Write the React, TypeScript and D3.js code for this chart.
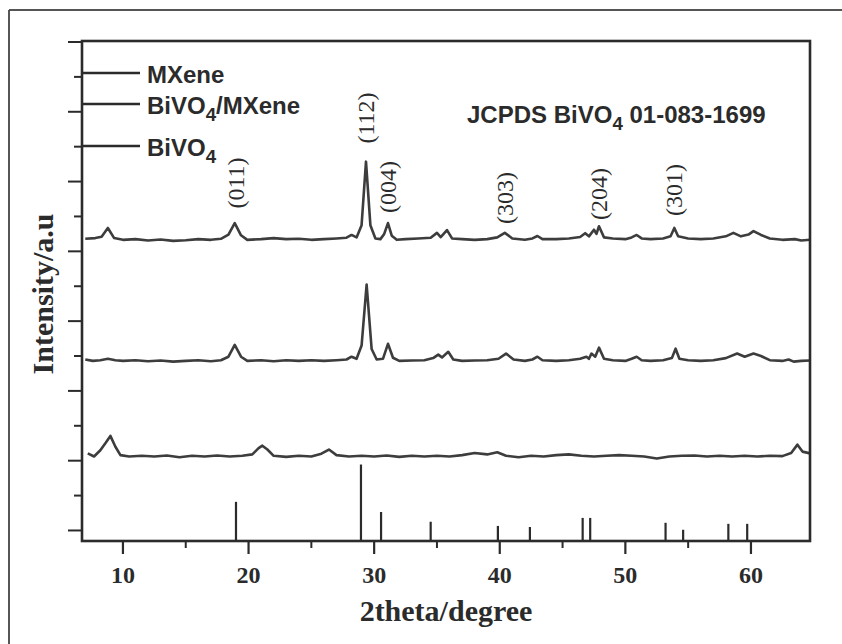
import React from "react";
import * as d3 from "d3";

// ---- data ----
const xTicksMajor = [10, 20, 30, 40, 50, 60];
const xTicksMinor = [15, 25, 35, 45, 55];
const yTickValues = [0, 1, 2, 3, 4, 5, 6, 7, 8, 9, 10, 11, 12, 13, 14];

const legendLabels = ["MXene", "BiVO4/MXene", "BiVO4"];

const bivo4Trace: [number, number][] = [
  [7.0, 8.36], [7.8, 8.38], [8.3, 8.42], [8.8, 8.67], [9.3, 8.38], [10.0, 8.33], [11, 8.35], [12, 8.31],
  [13, 8.34], [14, 8.30], [15, 8.32], [16, 8.35], [17, 8.33], [17.8, 8.36], [18.4, 8.48], [18.9, 8.81],
  [19.4, 8.46], [19.9, 8.33], [21, 8.35], [22, 8.38], [23, 8.35], [24, 8.36], [25, 8.33], [26, 8.35],
  [27, 8.37], [27.8, 8.39], [28.2, 8.47], [28.6, 8.40], [29.0, 8.75], [29.35, 10.57], [29.7, 8.75],
  [30.1, 8.37], [30.5, 8.35], [30.8, 8.50], [31.1, 8.81], [31.4, 8.45], [31.8, 8.33], [32.5, 8.35],
  [33.5, 8.37], [34.5, 8.39], [35.0, 8.53], [35.3, 8.41], [35.8, 8.61], [36.2, 8.37], [37, 8.35],
  [38, 8.33], [39, 8.35], [39.8, 8.40], [40.4, 8.53], [41.0, 8.37], [42, 8.33], [42.6, 8.37],
  [43.0, 8.44], [43.4, 8.35], [44.5, 8.35], [45.5, 8.37], [46.4, 8.41], [46.8, 8.52], [47.1, 8.43],
  [47.5, 8.62], [47.7, 8.50], [47.9, 8.72], [48.3, 8.40], [49, 8.37], [50, 8.35], [50.5, 8.40],
  [50.9, 8.47], [51.3, 8.37], [52, 8.35], [53, 8.37], [53.6, 8.43], [53.9, 8.67], [54.2, 8.43],
  [55, 8.37], [56, 8.35], [57, 8.37], [58, 8.43], [58.6, 8.53], [59.2, 8.43], [59.8, 8.48],
  [60.2, 8.58], [60.8, 8.47], [61.5, 8.37], [62.5, 8.33], [63.5, 8.35], [64, 8.31], [64.7, 8.33],
];

const compositeTrace: [number, number][] = [
  [7.0, 4.90], [7.6, 4.86], [8.2, 4.88], [8.8, 4.92], [9.4, 4.88], [10, 4.86], [11, 4.88], [12, 4.85],
  [13, 4.87], [14, 4.84], [15, 4.86], [16, 4.88], [17, 4.85], [17.8, 4.88], [18.4, 4.98], [18.9, 5.32],
  [19.4, 4.98], [19.9, 4.86], [21, 4.88], [22, 4.85], [23, 4.88], [24, 4.86], [25, 4.88], [26, 4.86],
  [27, 4.88], [27.8, 4.90], [28.2, 4.98], [28.6, 4.92], [29.0, 5.3], [29.4, 7.05], [29.8, 5.2],
  [30.2, 4.90], [30.7, 4.92], [31.1, 5.35], [31.5, 4.95], [32, 4.86], [33, 4.87], [34, 4.88],
  [34.7, 4.94], [35.1, 5.04], [35.4, 4.96], [35.9, 5.12], [36.3, 4.90], [37, 4.86], [38, 4.87],
  [39, 4.88], [39.9, 4.92], [40.5, 5.07], [41.1, 4.90], [42, 4.86], [42.6, 4.90], [43.0, 4.98],
  [43.4, 4.88], [44.5, 4.86], [45.5, 4.88], [46.4, 4.92], [46.9, 4.98], [47.1, 4.92], [47.3, 5.07],
  [47.6, 4.98], [47.9, 5.24], [48.3, 4.92], [49, 4.88], [50, 4.86], [50.5, 4.92], [50.9, 4.98],
  [51.3, 4.88], [52, 4.86], [53, 4.88], [53.7, 4.94], [54.0, 5.21], [54.3, 4.92], [55, 4.88],
  [56, 4.86], [57, 4.88], [58, 4.94], [58.9, 5.07], [59.5, 4.98], [60.2, 5.07], [60.8, 5.00],
  [61.5, 4.88], [62.5, 4.86], [63, 4.90], [63.4, 4.84], [64, 4.86], [64.7, 4.87],
];

const mxeneTrace: [number, number][] = [
  [7.2, 2.21], [7.7, 2.12], [8.2, 2.30], [8.6, 2.50], [9.0, 2.71], [9.4, 2.40], [9.8, 2.16], [10.5, 2.12],
  [11.5, 2.14], [12.5, 2.12], [13.5, 2.15], [14.5, 2.10], [15.5, 2.14], [16.5, 2.12], [17.5, 2.15],
  [18.5, 2.12], [19.5, 2.14], [20.3, 2.18], [20.8, 2.36], [21.1, 2.43], [21.5, 2.32], [22.0, 2.14],
  [23, 2.11], [24, 2.14], [25, 2.12], [25.8, 2.20], [26.4, 2.32], [27.0, 2.16], [28, 2.12], [29, 2.14],
  [30, 2.12], [31, 2.15], [32, 2.11], [33, 2.14], [34, 2.12], [35, 2.14], [36, 2.12], [37, 2.16],
  [38, 2.22], [39, 2.18], [39.8, 2.24], [40.5, 2.14], [41.5, 2.10], [42.5, 2.14], [43.5, 2.12],
  [44.5, 2.16], [45.5, 2.18], [46.5, 2.14], [47.5, 2.12], [48.5, 2.14], [49.5, 2.16], [50.5, 2.14],
  [51.5, 2.12], [52.5, 2.06], [53.5, 2.12], [54.5, 2.14], [55.5, 2.15], [56.5, 2.12], [57.5, 2.14],
  [58.5, 2.12], [59.5, 2.14], [60.5, 2.12], [61.5, 2.14], [62.5, 2.13], [63.2, 2.22], [63.7, 2.46],
  [64.1, 2.26], [64.7, 2.21],
];

const jcpdsPositions = [19.0, 28.95, 30.55, 34.5, 39.85, 42.4, 46.6, 47.2, 53.2, 54.6, 58.2, 59.7];
const jcpdsIntensities = [0.82, 1.89, 0.53, 0.25, 0.13, 0.10, 0.36, 0.36, 0.22, 0.02, 0.19, 0.19];

const peakLabels = ["(011)", "(112)", "(004)", "(303)", "(204)", "(301)"];
const peakLabelPositions = [19.0, 29.35, 31.1, 40.4, 47.9, 53.9];

// ---- layout ----
const W = 842;
const H = 644;
const left = 82;
const right = 810;
const top = 41;
const bottom = 541;

const ink = "#2b2b2b";
const traceColor = "#3d3d3d";
const serif = "'Liberation Serif', 'Times New Roman', serif";
const sans = "'Liberation Sans', Arial, sans-serif";

function withSubscript(s: string) {
  // "4" after "VO" is drawn as a subscript
  const parts = s.split("VO4");
  const out: React.ReactNode[] = [];
  parts.forEach((p, i) => {
    if (p.length > 0) out.push(<tspan key={"p" + i} dy={i > 0 ? -7 : 0}>{p}</tspan>);
    if (i < parts.length - 1) {
      out.push(<tspan key={"v" + i} dy={i > 0 && p.length === 0 ? -7 : 0}>VO</tspan>);
      out.push(
        <tspan key={"s" + i} fontSize="0.78em" dy={7}>
          4
        </tspan>
      );
    }
  });
  return out;
}

export default function App() {
  const x = d3.scaleLinear().domain([6.74, 64.7]).range([left, right]);
  const y = d3.scaleLinear().domain([-0.15, 14.0]).range([bottom - 5.3, top + 1]);
  const line = d3
    .line<[number, number]>()
    .x((d) => x(d[0]))
    .y((d) => y(d[1]))
    .curve(d3.curveLinear);

  const traces = [bivo4Trace, compositeTrace, mxeneTrace];
  const legendY = [73, 104, 146];
  const labelYCenter = [183, 118, 187, 198, 194, 190];

  return (
    <svg width={W} height={H} style={{ position: "absolute", left: 0, top: 0, background: "#fff" }}>
      <rect x={0} y={0} width={W} height={H} fill="#fff" />
      {/* outer frame (cropped) */}
      <line x1={9} y1={10} x2={W} y2={10} stroke="#555" strokeWidth={1.8} />
      <line x1={9} y1={10} x2={9} y2={H} stroke="#444" strokeWidth={1.8} />

      {/* traces */}
      {traces.map((t, i) => (
        <path key={i} d={line(t) || ""} fill="none" stroke={traceColor} strokeWidth={2.6} strokeLinejoin="round" />
      ))}

      {/* JCPDS sticks */}
      {jcpdsPositions.map((p, i) => (
        <line
          key={i}
          x1={x(p)}
          x2={x(p)}
          y1={bottom}
          y2={y(jcpdsIntensities[i])}
          stroke={ink}
          strokeWidth={2.2}
        />
      ))}

      {/* frame */}
      <rect x={left} y={top} width={right - left} height={bottom - top} fill="none" stroke={ink} strokeWidth={2.6} />

      {/* y ticks */}
      {yTickValues.map((v, i) => (
        <line
          key={v}
          x1={left}
          x2={left - (i % 2 === 0 ? 14 : 8)}
          y1={y(v)}
          y2={y(v)}
          stroke={ink}
          strokeWidth={2}
        />
      ))}

      {/* x ticks */}
      {xTicksMajor.map((v) => (
        <g key={v}>
          <line x1={x(v)} x2={x(v)} y1={bottom} y2={bottom + 13} stroke={ink} strokeWidth={2.2} />
          <text
            x={x(v)}
            y={583}
            textAnchor="middle"
            fontFamily={serif}
            fontWeight="bold"
            fontSize={24}
            fill={ink}
          >
            {v}
          </text>
        </g>
      ))}
      {xTicksMinor.map((v) => (
        <line key={v} x1={x(v)} x2={x(v)} y1={bottom} y2={bottom + 7} stroke={ink} strokeWidth={2} />
      ))}

      {/* axis titles */}
      <text x={446} y={621} textAnchor="middle" fontFamily={serif} fontWeight="bold" fontSize={30} fill={ink}>
        2theta/degree
      </text>
      <text
        transform={`translate(42,294) rotate(-90)`}
        textAnchor="middle"
        dominantBaseline="central"
        fontFamily={serif}
        fontWeight="bold"
        fontSize={30}
        fill={ink}
      >
        Intensity/a.u
      </text>

      {/* legend */}
      {legendLabels.map((lab, i) => (
        <g key={lab}>
          <line x1={left} x2={140} y1={legendY[i]} y2={legendY[i]} stroke={ink} strokeWidth={2.4} />
          <text x={147} y={legendY[i] + 10} fontFamily={sans} fontWeight="bold" fontSize={24} fill={ink}>
            {withSubscript(lab)}
          </text>
        </g>
      ))}

      {/* JCPDS label */}
      <text x={467} y={123} fontFamily={sans} fontWeight="bold" fontSize={24} fill={ink}>
        {withSubscript("JCPDS BiVO4 01-083-1699")}
      </text>

      {/* peak labels */}
      {peakLabels.map((lab, i) => (
        <text
          key={lab}
          transform={`translate(${x(peakLabelPositions[i])},${labelYCenter[i]}) rotate(-90)`}
          textAnchor="middle"
          dominantBaseline="central"
          fontFamily={serif}
          fontSize={24}
          fill={ink}
        >
          {lab}
        </text>
      ))}
    </svg>
  );
}
